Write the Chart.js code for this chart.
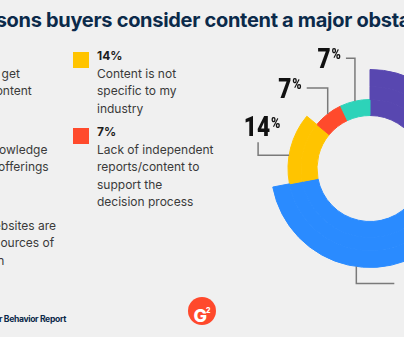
<!DOCTYPE html>
<html>
<head>
<meta charset="utf-8">
<script src="https://cdn.jsdelivr.net/npm/chart.js@4.4.0/dist/chart.umd.min.js"></script>
<style>
  html, body { margin: 0; padding: 0; }
  body { width: 404px; height: 337px; overflow: hidden; position: relative; background: #f0f0f0; font-family: Inter, sans-serif; }
  #myChart { position: absolute; left: 0; top: 0; }
  .title { position: absolute; top: 8px; left: -75px; white-space: nowrap; font-weight: 700; font-size: 20px; color: #0b2a4a; letter-spacing: -0.3px; }
  .item { position: absolute; font-size: 12px; line-height: 17.6px; color: #3a3a3a; white-space: nowrap; }
  .item .sw { position: absolute; left: -24px; top: 5px; width: 16px; height: 16px; }
  .item .pct { font-weight: 700; color: #1c1c1c; }
  .source { position: absolute; right: 338px; top: 314px; white-space: nowrap; font-size: 8.6px; font-weight: 700; color: #0b2a4a; letter-spacing: -0.35px; }
  .logo { position: absolute; left: 188px; top: 297px; width: 28px; height: 28px; border-radius: 50%; background: #ff492c; color: #fff; font-weight: 800; font-size: 18px; line-height: 28px; text-align: center; }
  .logo sup { font-size: 7px; vertical-align: 9px; margin-left: -1px; }
</style>
</head>
<body>
<div class="title">Top reasons buyers consider content a major obstacle</div>
<div id="legend"></div>
<div class="source">Source: 2022 G2 Buyer Behavior Report</div>
<div class="logo">G<sup>2</sup></div>
<canvas id="myChart" width="740" height="337"></canvas>
<script>
// categories in clockwise order around the ring, each split into its legend lines
const categories = [
    ['Difficult to get', 'relevant content'],
    ['Lack of knowledge', 'of vendor offerings'],
    ['Content is not', 'specific to my', 'industry'],
    ['Lack of independent', 'reports/content to', 'support the', 'decision process'],
    ['Vendor websites are', 'not good sources of', 'information']
];
const shares = [35, 37, 14, 7, 7];

const colors = ['#5847b0', '#2a8bff', '#ffc400', '#ff4a2c', '#2dd3b9'];
// how far out each slice reaches: 3 = outer ring, 1 = inner ring only
const tiers = [3, 3, 2, 1, 1];
const ringWeights = [17, 13, 16]; // outer -> inner

// legend slot (column, row) per category
const legendSlots = [[0, 0], [0, 1], [1, 0], [1, 1], [0, 2]];
const colX = [-60, 97];

// leader line for each slice: where on the arc, the elbow path, label side
const leaders = [
    { at: 0.5, path: [[34, 0]], side: 'right' },
    { at: 0.465, path: [[0, 17], [38, 0]], side: 'right' },
    { at: 0.4, path: [[-31, 0], [0, -13]], side: 'top' },
    { at: 0.5, path: [[0, -26], [-21, 0]], side: 'left' },
    { at: 0.5, path: [[0, -43], [-9, 0]], side: 'left' }
];

const legendElem = document.getElementById('legend');
categories.forEach((lines, i) => {
    const [col, row] = legendSlots[i];
    const item = document.createElement('div');
    item.className = 'item';
    item.style.left = colX[col] + 'px';
    item.style.top = (47 + row * 76) + 'px';
    const sw = document.createElement('div');
    sw.className = 'sw';
    sw.style.background = colors[i];
    item.appendChild(sw);
    const pct = document.createElement('div');
    pct.className = 'pct';
    pct.textContent = shares[i] + '%';
    item.appendChild(pct);
    for (let line of lines) {
        const l = document.createElement('div');
        l.textContent = line;
        item.appendChild(l);
    }
    legendElem.appendChild(item);
});

const numFont = '900 27px Roboto';
const pctFont = '900 15px Roboto';
const squeeze = 0.84;

const leaderPlugin = {
    id: 'leaders',
    afterDatasetsDraw(chart) {
        const ctx = chart.ctx;
        shares.forEach((v, i) => {
            const d = chart.data.datasets.findIndex(ds => ds.backgroundColor[i] !== 'transparent');
            const arc = chart.getDatasetMeta(d).data[i];
            const cfg = leaders[i];
            const a = arc.startAngle + cfg.at * (arc.endAngle - arc.startAngle);
            let x = arc.x + Math.cos(a) * arc.outerRadius;
            let y = arc.y + Math.sin(a) * arc.outerRadius;

            ctx.save();
            ctx.strokeStyle = '#7a7a7a';
            ctx.lineWidth = 1.5;
            ctx.beginPath();
            ctx.moveTo(x, y);
            cfg.path.forEach(([dx, dy]) => { x += dx; y += dy; ctx.lineTo(x, y); });
            ctx.stroke();

            const num = String(v);
            ctx.font = numFont;
            const wn = ctx.measureText(num).width * squeeze;
            ctx.font = pctFont;
            const wp = ctx.measureText('%').width * squeeze;
            const w = wn + 1 + wp;
            const capN = 27 * 0.71, capP = 15 * 0.71;
            let left, base;
            if (cfg.side === 'left') { left = x - 5 - w; base = y + capN / 2; }
            else if (cfg.side === 'right') { left = x + 12; base = y + capN / 2; }
            else { left = x + 4 - w / 2; base = y - 6; }
            ctx.fillStyle = '#111';
            ctx.textBaseline = 'alphabetic';
            ctx.translate(left, base);
            ctx.scale(squeeze, 1);
            ctx.font = numFont;
            ctx.fillText(num, 0, 0);
            ctx.font = pctFont;
            ctx.fillText('%', (wn + 1) / squeeze, -capN + capP);
            ctx.restore();
        });
    }
};

const datasets = ringWeights.map((wt, d) => {
    const fill = colors.map((c, i) => tiers[i] >= 3 - d ? c : 'transparent');
    return {
        data: shares,
        weight: wt,
        backgroundColor: fill,
        borderColor: fill,
        borderWidth: 1
    };
});

let myChart = new Chart(document.getElementById('myChart'), {
    type: 'doughnut',
    data: { labels: categories.map(c => c.join(' ')), datasets: datasets },
    options: {
        responsive: false,
        animation: false,
        radius: 99,
        cutout: (53 / 99 * 100) + '%',
        layout: { padding: 0 },
        plugins: { legend: { display: false }, tooltip: { enabled: false } },
        events: []
    },
    plugins: [leaderPlugin]
});
</script>
</body>
</html>
